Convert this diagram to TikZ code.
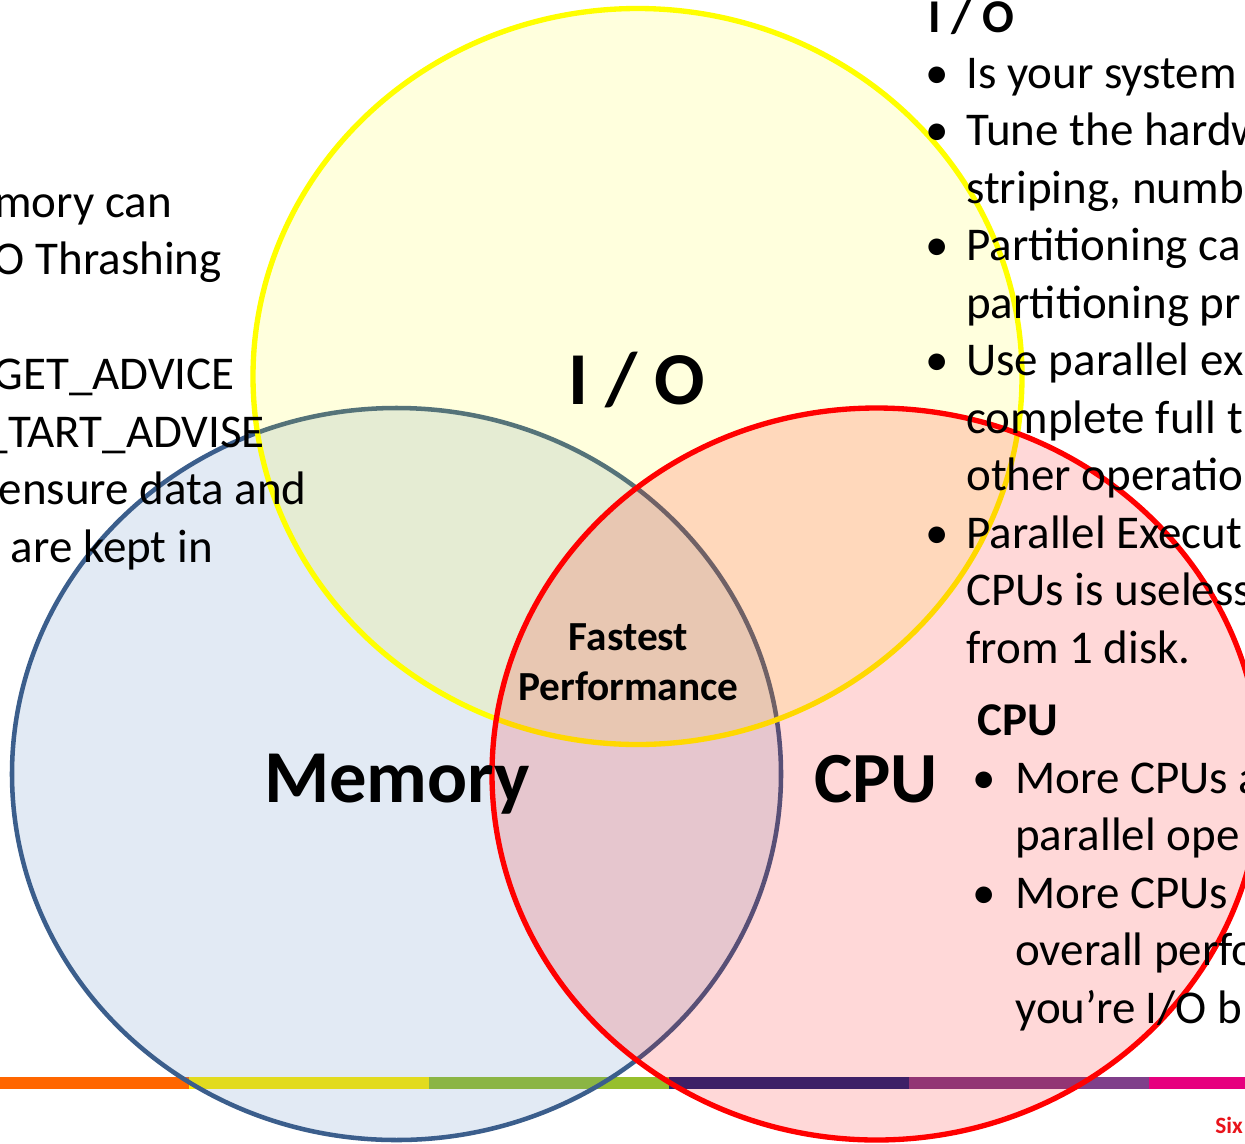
\documentclass[tikz,border=0pt]{standalone}
\usepackage{fontspec}
\setmainfont{Carlito}
\usepackage{tikz}

\definecolor{memline}{RGB}{59,94,140}
\definecolor{memfill}{RGB}{79,129,189}
\definecolor{ioline}{RGB}{255,255,0}
\definecolor{cpuline}{RGB}{255,0,0}
\definecolor{barorange}{RGB}{255,102,0}
\definecolor{baryellow}{RGB}{255,237,0}
\definecolor{bargreen}{RGB}{151,191,45}
\definecolor{barnavy}{RGB}{28,38,122}
\definecolor{barpurple}{RGB}{127,63,138}
\definecolor{barmagenta}{RGB}{230,0,126}
\definecolor{sixred}{RGB}{232,20,27}

\begin{document}
\begin{tikzpicture}[x=0.75pt,y=0.75pt,yscale=-1,xscale=1,
  body/.style={inner sep=0pt,font=\fontsize{35.25}{43}\selectfont},
  head/.style={inner sep=0pt,font=\fontsize{35.25}{43}\selectfont\bfseries},
  biglabel/.style={inner sep=0pt,anchor=base,font=\fontsize{56}{60}\selectfont\bfseries},
  midlabel/.style={inner sep=0pt,anchor=base,font=\fontsize{31}{38}\selectfont\bfseries}]
%set diagram size to the slide crop
\path[use as bounding box] (0,0) rectangle (1245,1143);
\clip (0,0) rectangle (1245,1143);
\fill[white] (0,0) rectangle (1245,1143);

%Colour bar
\fill[barorange]  (-51,1077) rectangle (189,1089);
\fill[baryellow]  (189,1077) rectangle (429,1089);
\fill[bargreen]   (429,1077) rectangle (669,1089);
\fill[barnavy]    (669,1077) rectangle (909,1089);
\fill[barpurple]  (909,1077) rectangle (1149,1089);
\fill[barmagenta] (1149,1077) rectangle (1389,1089);

%Circles
\draw [color=memline, line width=3.4pt, fill=memfill, fill opacity=0.16] (396.5,774) ellipse [x radius=384.5, y radius=366];
\draw [color=ioline, line width=4pt, fill=ioline, fill opacity=0.135] (637.5,376.5) ellipse [x radius=384.5, y radius=368];
\draw [color=cpuline, line width=4pt, fill=cpuline, fill opacity=0.153] (876.5,774) ellipse [x radius=384.5, y radius=366];

% Text Node
\node (iolbl) [biglabel] at (636.5,404) {I / O};
\node (memlbl) [biglabel] at (397,802) {Memory};
\node (cpulbl) [biglabel,font=\fontsize{54}{60}\selectfont\bfseries] at (876,802) {CPU};
\node (fast1) [midlabel] at (628.5,650) {Fastest};
\node (fast2) [midlabel] at (628.5,700) {Performance};

% Text Node -- memory notes
\node (m1) [body,anchor=base east] at (172,217) {mory can};
\node (m2) [body,anchor=base east] at (222,274.5) {O Thrashing};
\node (m3) [body,anchor=base east] at (235,389.5) {GET\_ADVICE};
\node (m4) [body,anchor=base east] at (265,447) {\_TART\_ADVISE};
\node (m5) [body,anchor=base east] at (307,504.5) {ensure data and};
\node (m6) [body,anchor=base east] at (213,562) {are kept in};

% Text Node -- I/O notes
\node (iohead) [head,anchor=base west] at (928,32) {I / O};
\node (iob1) [body,anchor=base] at (937,88) {•};
\node (io1) [body,anchor=base west] at (966,88) {Is your system};
\node (iob2) [body,anchor=base] at (937,145.5) {•};
\node (io2) [body,anchor=base west] at (966,145.5) {Tune the hardw};
\node (io3) [body,anchor=base west] at (966,203) {striping, numb};
\node (iob3) [body,anchor=base] at (937,260.5) {•};
\node (io4) [body,anchor=base west] at (966,260.5) {Partitioning ca};
\node (io5) [body,anchor=base west] at (966,318) {partitioning pr};
\node (iob4) [body,anchor=base] at (937,375.5) {•};
\node (io6) [body,anchor=base west] at (966,375.5) {Use parallel ex};
\node (io7) [body,anchor=base west] at (966,433) {complete full t};
\node (io8) [body,anchor=base west] at (966,490.5) {other operatio};
\node (iob5) [body,anchor=base] at (937,548) {•};
\node (io9) [body,anchor=base west] at (966,548) {Parallel Execut};
\node (io10) [body,anchor=base west] at (966,605.5) {CPUs is useless};
\node (io11) [body,anchor=base west] at (966,663) {from 1 disk.};

% Text Node -- CPU notes
\node (cpuhead) [head,anchor=base west] at (977,735) {CPU};
\node (cpub1) [body,anchor=base] at (984,793) {•};
\node (cpu1) [body,anchor=base west] at (1015,793) {More CPUs a};
\node (cpu2) [body,anchor=base west] at (1015,850.5) {parallel ope};
\node (cpub2) [body,anchor=base] at (984,908) {•};
\node (cpu3) [body,anchor=base west] at (1015,908) {More CPUs};
\node (cpu4) [body,anchor=base west] at (1015,965.5) {overall perfo};
\node (cpu5) [body,anchor=base west] at (1015,1023) {you’re I/O b};

% Text Node
\node (six) [inner sep=0pt,anchor=base west,text=sixred,font=\fontsize{17.5}{20}\selectfont\bfseries] at (1215,1133) {Six};

\end{tikzpicture}
\end{document}
